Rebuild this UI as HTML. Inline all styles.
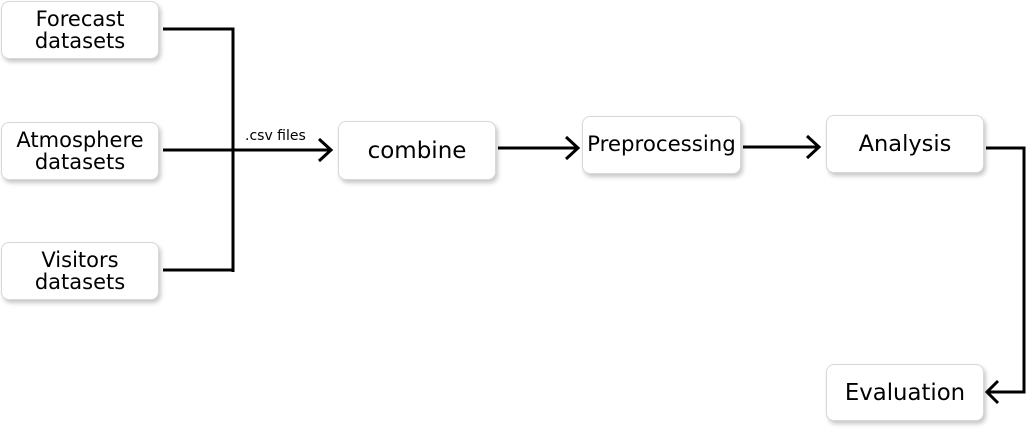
<!DOCTYPE html><html><head><style>
body{margin:0;width:1027px;height:435px;background:#fff;position:relative;overflow:hidden;font-family:"DejaVu Sans","Liberation Sans",sans-serif}
.b{position:absolute;box-sizing:border-box;border:1px solid #d8d8d8;border-radius:8px;background:#fff;box-shadow:2px 3px 4px rgba(0,0,0,0.22);display:flex;align-items:center;justify-content:center;text-align:center;font-size:21px;line-height:22px;color:#000}
svg{position:absolute;left:0;top:0}
</style></head><body>
<div class="b" style="left:1px;top:1px;width:158px;height:58px">Forecast<br>datasets</div>
<div class="b" style="left:1px;top:122px;width:158px;height:58px">Atmosphere<br>datasets</div>
<div class="b" style="left:1px;top:242px;width:158px;height:58px">Visitors<br>datasets</div>
<div class="b" style="left:338px;top:121px;width:158px;height:59px;font-size:23px">combine</div>
<div class="b" style="left:582px;top:116px;width:159px;height:58px;font-size:21.3px">Preprocessing</div>
<div class="b" style="left:826px;top:115px;width:158px;height:58px;font-size:22.5px">Analysis</div>
<div class="b" style="left:826px;top:364px;width:158px;height:57px;font-size:22.8px">Evaluation</div>
<svg width="1027" height="435" fill="none" stroke="#000" stroke-width="3">
<path d="M163 29H233V272M163 150H330M163 270H233"/>
<path d="M319 139L331 150L319 161M498 148H578M566 137L578 148L566 159M743 147H819M807 136L819 147L807 158M986 148H1024V392H988M998 381L987 392L998 403"/>
<text x="245" y="140" font-size="14" fill="#000" stroke="none" font-family="DejaVu Sans,sans-serif">.csv files</text>
</svg>
</body></html>
